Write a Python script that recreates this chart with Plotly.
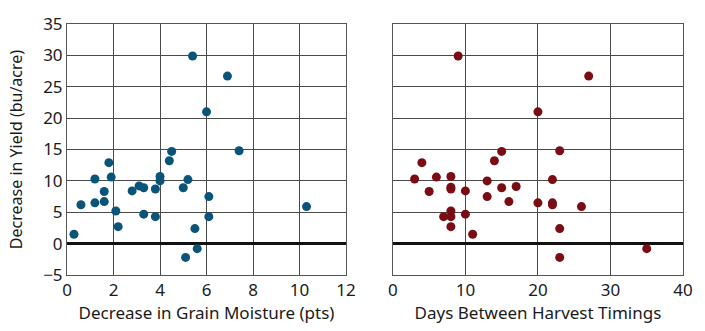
import plotly.graph_objects as go

# Left panel: decrease in grain moisture (pts) vs decrease in yield (bu/acre)
moisture = [5.4, 6.9, 6.0, 4.5, 7.4, 1.8, 4.4, 1.2, 1.9, 4.0, 4.0, 5.2, 1.6, 2.8, 3.1, 3.3,
            3.8, 5.0, 0.6, 1.2, 1.6, 6.1, 10.3, 2.1, 3.3, 3.8, 6.1, 2.2, 0.3, 5.5, 5.6, 5.1]
yield_left = [29.9, 26.7, 21.0, 14.7, 14.8, 12.9, 13.2, 10.3, 10.6, 10.7, 10.0, 10.2, 8.3, 8.4, 9.2, 8.9,
              8.7, 8.9, 6.2, 6.5, 6.7, 7.5, 5.9, 5.2, 4.7, 4.3, 4.3, 2.7, 1.5, 2.4, -0.8, -2.2]

# Right panel: days between harvest timings vs decrease in yield
days = [9, 27, 20, 15, 23, 4, 14, 3, 6, 8, 8, 8, 13, 22, 15, 17, 5, 10, 13, 16, 20,
        22, 22, 26, 8, 7, 8, 10, 8, 11, 23, 35, 23]
yield_right = [29.9, 26.7, 21.0, 14.7, 14.8, 12.9, 13.2, 10.3, 10.6, 10.7, 9.0, 8.7, 10.0, 10.2, 8.9, 9.1, 8.3,
               8.4, 7.5, 6.7, 6.5, 6.5, 6.2, 5.9, 5.2, 4.3, 4.3, 4.7, 2.7, 1.5, 2.4, -0.8, -2.2]

x1_ticks = [0, 2, 4, 6, 8, 10, 12]
x2_ticks = [0, 10, 20, 30, 40]
y_ticks = [-5, 0, 5, 10, 15, 20, 25, 30, 35]

FONT = "Noto Sans"
grid = "#4a4a4a"
tf = dict(family=FONT, size=17, color="#1a1a1a")
yf = dict(family=FONT, size=16, color="#1a1a1a")

fig = go.Figure()
fig.add_trace(go.Scatter(x=moisture, y=yield_left, mode="markers", xaxis="x", yaxis="y",
                         marker=dict(size=9, color="#0b5479"), showlegend=False))
fig.add_trace(go.Scatter(x=days, y=yield_right, mode="markers", xaxis="x2", yaxis="y2",
                         marker=dict(size=9, color="#7a0d14"), showlegend=False))

axis_common = dict(showgrid=True, gridcolor=grid, gridwidth=1, showline=True, linecolor="#555",
                   linewidth=1, mirror=True, ticks="")

fig.update_layout(
    width=705, height=331,
    margin=dict(l=67, r=18, t=14, b=56),
    paper_bgcolor="white", plot_bgcolor="white",
    font=dict(family=FONT, color="#1a1a1a"),
    xaxis=dict(domain=[0, 0.453], range=[0, 12], tickvals=x1_ticks, zeroline=False, ticklabelstandoff=0,
               tickfont=tf, title=dict(text="Decrease in Grain Moisture (pts)", font=tf, standoff=4),
               **axis_common),
    xaxis2=dict(domain=[0.529, 1], range=[0, 40], tickvals=x2_ticks, zeroline=False, ticklabelstandoff=0,
                tickfont=tf, title=dict(text="Days Between Harvest Timings", font=tf, standoff=4),
                **axis_common),
    yaxis=dict(anchor="x", range=[-5, 35], tickvals=y_ticks, zeroline=True, zerolinecolor="#111", zerolinewidth=2.5,
               tickfont=tf, title=dict(text="Decrease in Yield (bu/acre)", font=yf, standoff=16),
               **axis_common),
    yaxis2=dict(anchor="x2", range=[-5, 35], tickvals=y_ticks, showticklabels=False, zeroline=True,
                zerolinecolor="#111", zerolinewidth=2.5, **axis_common),
)

fig.write_html("out.html")
